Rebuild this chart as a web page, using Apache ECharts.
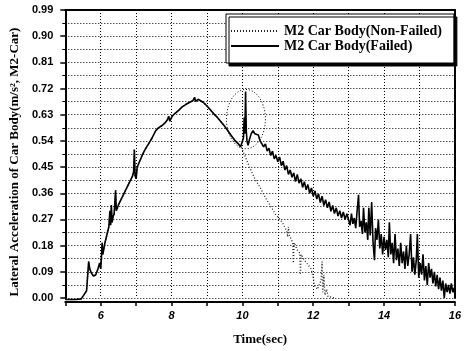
<!DOCTYPE html>
<html>
<head>
<meta charset="utf-8">
<script src="https://cdn.jsdelivr.net/npm/echarts@6/dist/echarts.min.js"></script>
<style>html,body{margin:0;padding:0;background:#fff;}#c{width:464px;height:351px;}</style>
</head>
<body>
<div id="c"></div>
<script>
// Shared rising part (both series)
var sharedT = [5.0,5.3,5.45,5.52,5.6,5.64,5.66,5.69,5.74,5.8,5.86,5.92,5.97,6.0,6.02,6.04,6.06,6.12,6.18,6.23,6.26,6.28,6.3,6.32,6.35,6.38,6.42,6.44,6.5,6.6,6.7,6.8,6.9,6.93,6.95,6.97,7.0,7.03,7.1,7.17,7.25,7.35,7.45,7.55,7.63,7.72,7.8,7.88,7.92,7.95,8.02,8.1,8.2,8.3,8.4,8.5,8.6,8.65,8.68,8.75,8.82,8.9,9.0,9.1,9.2,9.3,9.4,9.5,9.6,9.7,9.8,9.9,9.95];
var sharedV = [-0.005,-0.005,-0.003,0.01,0.025,0.03,0.125,0.10,0.085,0.075,0.08,0.10,0.12,0.10,0.14,0.19,0.15,0.19,0.22,0.245,0.30,0.25,0.32,0.26,0.28,0.29,0.37,0.30,0.32,0.345,0.37,0.395,0.42,0.435,0.51,0.42,0.41,0.45,0.47,0.49,0.51,0.53,0.55,0.575,0.585,0.592,0.60,0.612,0.625,0.608,0.625,0.635,0.645,0.657,0.665,0.672,0.678,0.69,0.676,0.683,0.678,0.672,0.66,0.646,0.632,0.62,0.605,0.59,0.573,0.556,0.54,0.528,0.52];

// Failed tail
var failedT = [10.0,10.03,10.05,10.07,10.09,10.11,10.13,10.16,10.2,10.25,10.3,10.35,10.4,10.45,10.5,10.55,10.6,10.65,10.7,10.75,10.8,10.85,10.9,10.95,11.0,11.05,11.1,11.15,11.2,11.25,11.3,11.35,11.4,11.45,11.5,11.55,11.6,11.65,11.7,11.75,11.8,11.85,11.9,11.95,12.0,12.05,12.1,12.15,12.2,12.25,12.3,12.35,12.4,12.45,12.5,12.55,12.6,12.65,12.7,12.75,12.8,12.85,12.9,12.95,13.0,13.04,13.08,13.12,13.16,13.2,13.24,13.28,13.31,13.35,13.39,13.42,13.46,13.5,13.54,13.57,13.61,13.65,13.69,13.73,13.76,13.8,13.84,13.88,13.92,13.96,14.0,14.04,14.08,14.12,14.15,14.19,14.23,14.27,14.31,14.35,14.39,14.43,14.47,14.51,14.55,14.59,14.63,14.67,14.71,14.75,14.79,14.83,14.87,14.91,14.94,14.98,15.02,15.06,15.1,15.14,15.18,15.22,15.26,15.3,15.34,15.38,15.42,15.46,15.5,15.54,15.58,15.62,15.66,15.7,15.74,15.78,15.82,15.86,15.9,15.94,15.98,16.0];
var failedV = [0.525,0.55,0.62,0.565,0.71,0.575,0.54,0.525,0.545,0.565,0.575,0.565,0.56,0.56,0.54,0.545,0.52,0.53,0.505,0.515,0.49,0.505,0.478,0.49,0.468,0.485,0.455,0.47,0.44,0.455,0.425,0.44,0.415,0.43,0.40,0.425,0.395,0.41,0.38,0.40,0.372,0.39,0.36,0.378,0.35,0.368,0.34,0.358,0.328,0.35,0.318,0.338,0.31,0.33,0.298,0.318,0.29,0.31,0.282,0.30,0.275,0.296,0.27,0.29,0.285,0.25,0.29,0.255,0.275,0.24,0.30,0.355,0.245,0.265,0.22,0.31,0.225,0.26,0.20,0.31,0.215,0.33,0.19,0.13,0.24,0.20,0.27,0.17,0.22,0.15,0.21,0.165,0.20,0.14,0.26,0.15,0.19,0.12,0.22,0.13,0.17,0.11,0.19,0.12,0.16,0.10,0.18,0.11,0.15,0.22,0.09,0.14,0.08,0.13,0.22,0.07,0.12,0.08,0.15,0.06,0.11,0.045,0.12,0.07,0.10,0.05,0.09,0.04,0.08,0.03,0.07,0.025,0.06,0.0,0.05,0.02,0.045,0.015,0.05,0.02,0.035,0.01];

// Non-failed tail
var nonFailedT = [10.0,10.1,10.2,10.35,10.5,10.65,10.8,10.95,11.06,11.15,11.25,11.28,11.3,11.33,11.42,11.44,11.46,11.55,11.62,11.64,11.66,11.75,11.85,11.94,12.0,12.03,12.08,12.12,12.17,12.22,12.25,12.27,12.3,12.33,12.38,12.42,12.5,12.6];
var nonFailedV = [0.51,0.48,0.45,0.41,0.38,0.345,0.315,0.285,0.27,0.255,0.23,0.21,0.245,0.215,0.19,0.12,0.19,0.165,0.155,0.08,0.15,0.13,0.115,0.10,0.07,0.045,0.04,0.03,0.024,0.06,0.125,0.02,0.08,0.01,0.03,0.005,0.003,0.0];

// Annotation ellipse around the spike (data coords): center and radii
var ellipseCenter = [10.1, 0.615];
var ellipseRadius = [0.55, 0.102];

var seriesNames = ['M2 Car Body(Non-Failed)', 'M2 Car Body(Failed)'];
var xTicks = [6, 8, 10, 12, 14, 16];
var yMax = 0.99, yStep = 0.09;

function pairs(t, v) { return t.map(function (x, i) { return [x, v[i]]; }); }
var failedData = pairs(sharedT, sharedV).concat(pairs(failedT, failedV));
var nonFailedData = pairs(sharedT, sharedV).concat(pairs(nonFailedT, nonFailedV));

var chart = echarts.init(document.getElementById('c'), null, {renderer: 'canvas'});
var dotted = [1, 2];
var option = {
  backgroundColor: '#fff',
  animation: false,
  color: ['#000', '#000'],
  grid: {left: 62, right: 4, top: 10, bottom: 51},
  legend: {
    orient: 'vertical', left: 226, top: 14,
    padding: [10, 12, 10, 4],
    itemGap: 1, itemWidth: 48, itemHeight: 8,
    borderColor: '#000', borderWidth: 1, backgroundColor: '#fff',
    shadowColor: '#000', shadowOffsetX: 3, shadowOffsetY: 3, shadowBlur: 0,
    itemStyle: {opacity: 0},
    textStyle: {fontFamily: 'Liberation Serif', fontWeight: 'bold', fontSize: 14, color: '#000', lineHeight: 12},
    data: seriesNames
  },
  xAxis: [{
    type: 'value', min: 5, max: 16, interval: 1, offset: 4,
    name: 'Time(sec)', nameLocation: 'middle', nameGap: 31,
    nameTextStyle: {fontFamily: 'Liberation Serif', fontWeight: 'bold', fontSize: 13, color: '#000'},
    axisLine: {show: true, onZero: false, lineStyle: {color: '#000', width: 2}},
    axisTick: {show: true, inside: false, length: 4, lineStyle: {color: '#000', width: 1.5}},
    axisLabel: {margin: 8, fontFamily: 'Liberation Sans', fontWeight: 'bold', fontStyle: 'italic', fontSize: 11, color: '#000',
      formatter: function (v) { return xTicks.indexOf(v) >= 0 ? String(v) : ''; }},
    splitLine: {show: true, lineStyle: {color: '#000', type: dotted, width: 1}}
  }, {
    type: 'value', min: 5, max: 16, position: 'top',
    axisLine: {show: true, onZero: false, lineStyle: {color: '#000', width: 2}},
    axisTick: {show: false}, axisLabel: {show: false}, splitLine: {show: false}
  }],
  yAxis: [{
    type: 'value', min: 0, max: yMax, interval: yStep,
    name: 'Lateral Acceleration of Car Body(m/s\u00B2, M2-Car)', nameLocation: 'middle', nameGap: 42,
    nameTextStyle: {fontFamily: 'Liberation Serif', fontWeight: 'bold', fontSize: 13, color: '#000', padding: [0, 16, 0, 0]},
    axisLine: {show: true, onZero: false, lineStyle: {color: '#000', width: 2}},
    axisTick: {show: true, inside: false, length: 5, lineStyle: {color: '#000', width: 1.5}},
    minorTick: {show: true, splitNumber: 2, length: 3, lineStyle: {color: '#000'}},
    axisLabel: {margin: 12, fontFamily: 'Liberation Sans', fontWeight: 'bold', fontSize: 11, color: '#000',
      formatter: function (v) { return v.toFixed(2); }},
    splitLine: {show: true, lineStyle: {color: '#000', type: dotted, width: 1}},
    minorSplitLine: {show: true, lineStyle: {color: '#000', type: dotted, width: 1}}
  }, {
    type: 'value', min: 0, max: yMax, position: 'right',
    axisLine: {show: true, onZero: false, lineStyle: {color: '#000', width: 2}},
    axisTick: {show: false}, axisLabel: {show: false}, splitLine: {show: false}
  }],
  series: [{
    name: seriesNames[0], type: 'line', data: nonFailedData, showSymbol: false, symbol: 'none',
    clip: false, z: 2,
    itemStyle: {color: '#000'},
    lineStyle: {color: '#222', width: 1.3, type: dotted}
  }, {
    name: seriesNames[1], type: 'line', data: failedData, showSymbol: false, symbol: 'none',
    clip: false, z: 3,
    itemStyle: {color: '#000'},
    lineStyle: {color: '#000', width: 1.6}
  }]
};
chart.setOption(option);

var c = chart.convertToPixel({xAxisIndex: 0, yAxisIndex: 0}, ellipseCenter);
var e = chart.convertToPixel({xAxisIndex: 0, yAxisIndex: 0}, [ellipseCenter[0] + ellipseRadius[0], ellipseCenter[1] + ellipseRadius[1]]);
chart.setOption({
  graphic: [{
    type: 'ellipse', z: 10,
    shape: {cx: c[0], cy: c[1], rx: Math.abs(e[0] - c[0]), ry: Math.abs(c[1] - e[1])},
    style: {fill: 'none', stroke: '#000', lineWidth: 1, lineDash: [1, 2]}
  }]
});
</script>
</body>
</html>
